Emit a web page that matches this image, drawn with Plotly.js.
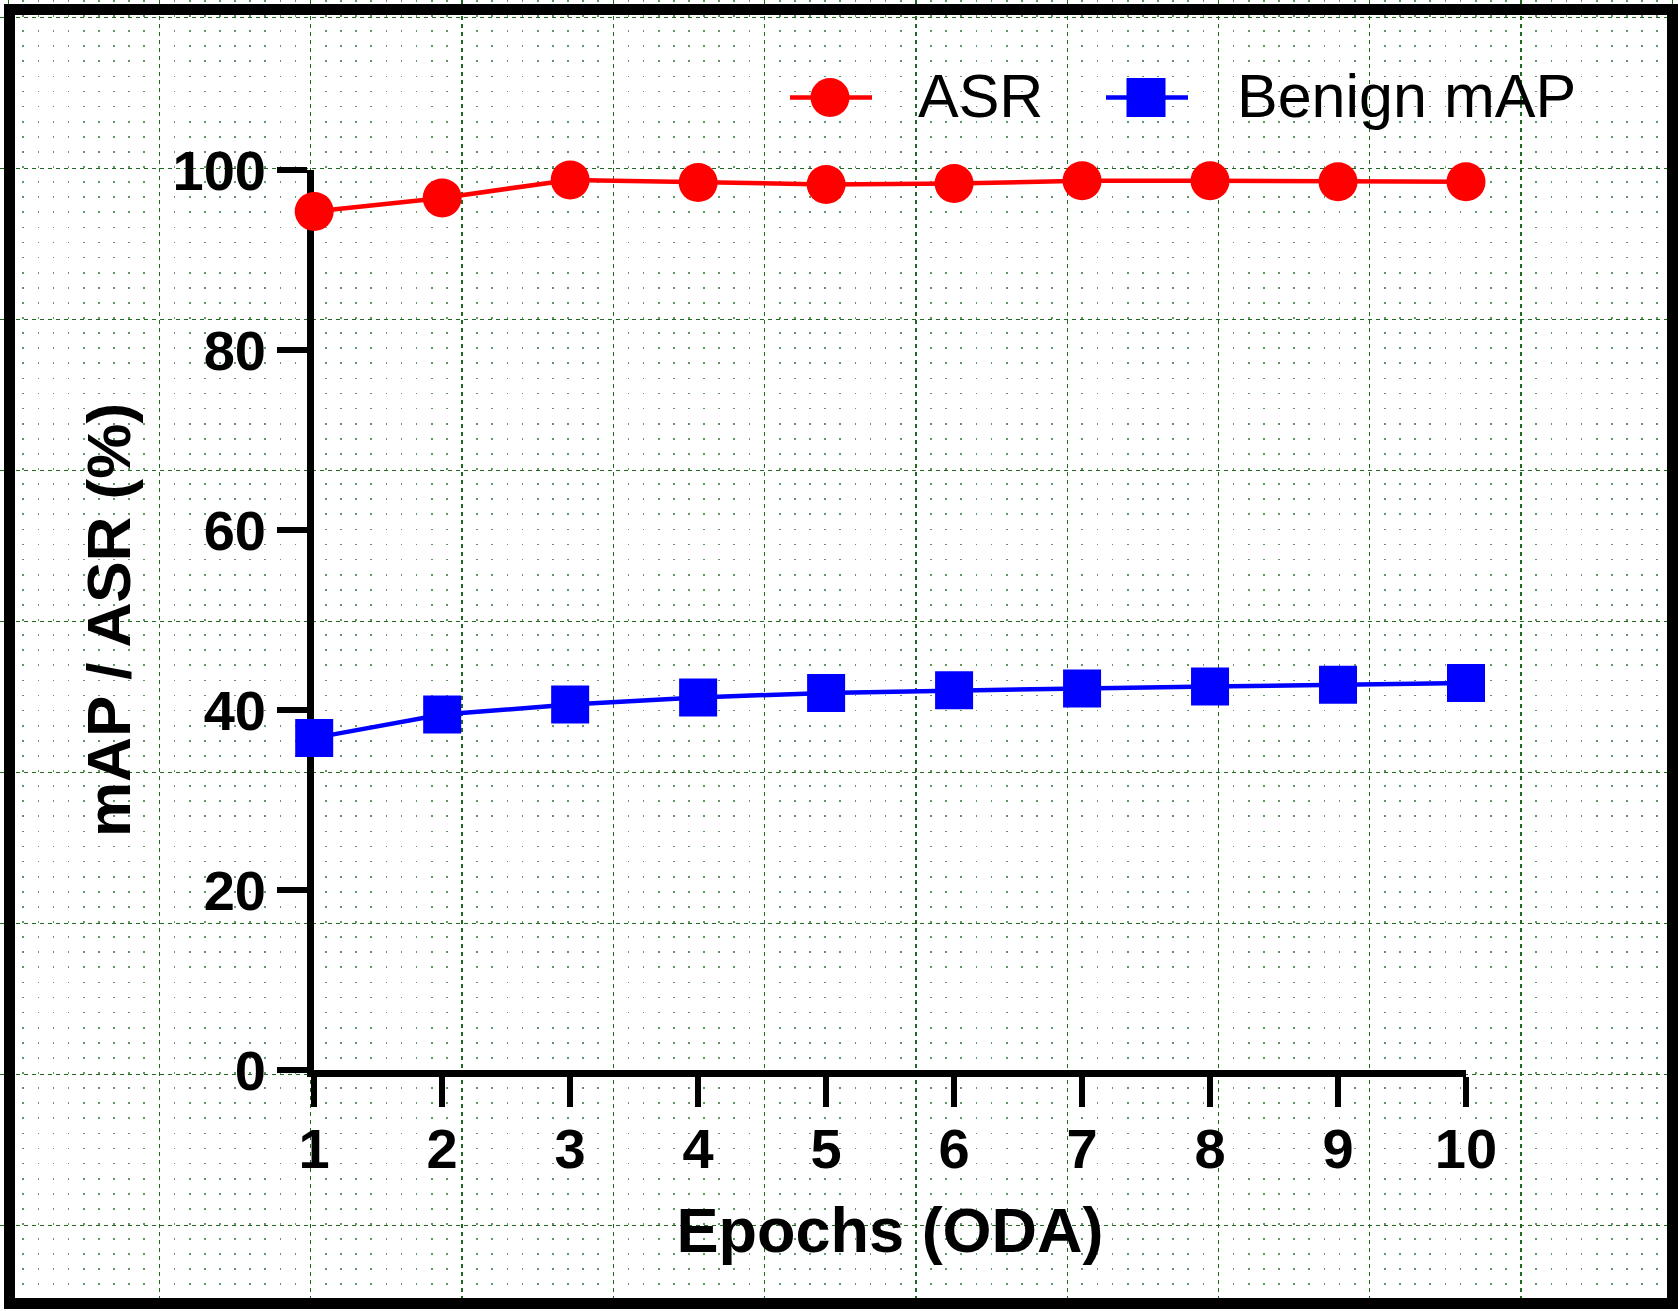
<!DOCTYPE html>
<html>
<head>
<meta charset="utf-8">
<script src="https://cdn.plot.ly/plotly-3.0.1.min.js"></script>
<style>
html,body{margin:0;padding:0;background:#fff;}
#plotZone{width:1678px;height:1311px;}
</style>
</head>
<body>
<div id="plotZone"></div>
<script>
// values
var epochs=[1,2,3,4,5,6,7,8,9,10];
var asr=[95.4,96.9,98.9,98.6,98.4,98.5,98.8,98.8,98.7,98.7];
var benignMap=[36.9,39.5,40.6,41.4,41.9,42.2,42.4,42.6,42.8,43.0];
var seriesNames=["ASR","Benign mAP"];
var seriesColors=["#ff0000","#0000ff"];
var yTicks=[0,20,40,60,80,100];

var W=1678, H=1311;
// pixel -> paper fraction (margins are zero, so paper is the whole picture)
function px(x){return x/W;}
function py(y){return 1-y/H;}

var fontFam="Liberation Sans, Arial, sans-serif";
var gridGreen="#1f6a1f";
var dotGreen="rgba(31,106,31,0.7)";

// empty trace so the background (graph paper) subplot gets drawn
var tracePaper={x:[],y:[],xaxis:"x",yaxis:"y",type:"scatter",mode:"markers",showlegend:false,hoverinfo:"skip"};

var traceAsr={
    x:epochs,
    y:asr,
    xaxis:"x2",
    yaxis:"y2",
    type:"scatter",
    mode:"lines+markers",
    name:seriesNames[0],
    line:{color:seriesColors[0],width:4.5},
    marker:{symbol:"circle",size:39,color:seriesColors[0]},
    cliponaxis:false,
    showlegend:false
};
var traceMap={
    x:epochs,
    y:benignMap,
    xaxis:"x2",
    yaxis:"y2",
    type:"scatter",
    mode:"lines+markers",
    name:seriesNames[1],
    line:{color:seriesColors[1],width:4.5},
    marker:{symbol:"square",size:38,color:seriesColors[1]},
    cliponaxis:false,
    showlegend:false
};

// legend drawn by hand so the keys keep the big marker size
var legendY=97.5;
var shapes=[
    // outer frame
    {type:"rect",xref:"paper",yref:"paper",x0:px(9.5),x1:px(1672.5),y0:py(1303.5),y1:py(9.5),
        line:{color:"#000",width:11},fillcolor:"rgba(0,0,0,0)"},
    {type:"line",xref:"paper",yref:"paper",x0:px(790),x1:px(872),y0:py(legendY),y1:py(legendY),
        line:{color:seriesColors[0],width:4.5}},
    {type:"circle",xref:"paper",yref:"paper",x0:px(830-19.5),x1:px(830+19.5),y0:py(legendY+19.5),y1:py(legendY-19.5),
        line:{width:0},fillcolor:seriesColors[0]},
    {type:"line",xref:"paper",yref:"paper",x0:px(1106),x1:px(1188),y0:py(legendY),y1:py(legendY),
        line:{color:seriesColors[1],width:4.5}},
    {type:"rect",xref:"paper",yref:"paper",x0:px(1146-19.5),x1:px(1146+19.5),y0:py(legendY+19.5),y1:py(legendY-19.5),
        line:{width:0},fillcolor:seriesColors[1]}
];
var annotations=[
    {xref:"paper",yref:"paper",x:px(916),y:py(legendY-2),xanchor:"left",yanchor:"middle",showarrow:false,
        text:seriesNames[0],font:{family:fontFam,size:61,color:"#000"}},
    {xref:"paper",yref:"paper",x:px(1235),y:py(legendY-2),xanchor:"left",yanchor:"middle",showarrow:false,
        text:seriesNames[1],font:{family:fontFam,size:61,color:"#000"}}
];

var layout={
    width:W,
    height:H,
    autosize:false,
    margin:{l:0,r:0,t:0,b:0,pad:0},
    paper_bgcolor:"#fff",
    plot_bgcolor:"rgba(0,0,0,0)",
    showlegend:false,
    // background graph paper
    xaxis:{
        domain:[0,1],range:[0,W],anchor:"y",fixedrange:true,
        showticklabels:false,ticks:"",showline:false,zeroline:false,
        tick0:310.7,dtick:151.3,
        showgrid:true,gridcolor:gridGreen,gridwidth:1.2,griddash:"4px,4px",
        minor:{tick0:310.7,dtick:15.13,showgrid:true,gridcolor:dotGreen,gridwidth:1.7,griddash:"1.7px,13.4px",ticks:""}
    },
    yaxis:{
        domain:[0,1],range:[H,0],anchor:"x",fixedrange:true,
        showticklabels:false,ticks:"",showline:false,zeroline:false,
        tick0:1074.6,dtick:151,
        showgrid:true,gridcolor:gridGreen,gridwidth:1.2,griddash:"4px,4px"
    },
    // data axes
    xaxis2:{
        domain:[px(314.2),px(1466)],anchor:"y2",range:[1,10],
        tickvals:epochs,
        ticks:"outside",ticklen:30,tickwidth:6,tickcolor:"#000",
        showline:true,linewidth:7,linecolor:"#000",
        showgrid:false,zeroline:false,layer:"below traces",automargin:false,
        ticklabelstandoff:-6,
        tickfont:{family:fontFam,size:56,color:"#000",weight:"bold"},
        title:{text:"Epochs (ODA)",font:{family:fontFam,size:63,color:"#000",weight:"bold"},standoff:31}
    },
    yaxis2:{
        domain:[py(1070),py(170)],anchor:"x2",range:[0,100],
        tickvals:yTicks,
        ticks:"outside",ticklen:30,tickwidth:6,tickcolor:"#000",
        showline:true,linewidth:7,linecolor:"#000",
        showgrid:false,zeroline:false,layer:"below traces",automargin:false,
        tickfont:{family:fontFam,size:56,color:"#000",weight:"bold"},
        title:{text:"mAP / ASR (%)",font:{family:fontFam,size:62,color:"#000",weight:"bold"},standoff:24}
    },
    shapes:shapes,
    annotations:annotations
};

Plotly.newPlot("plotZone",[tracePaper,traceAsr,traceMap],layout,{displayModeBar:false,staticPlot:true});
</script>
</body>
</html>
